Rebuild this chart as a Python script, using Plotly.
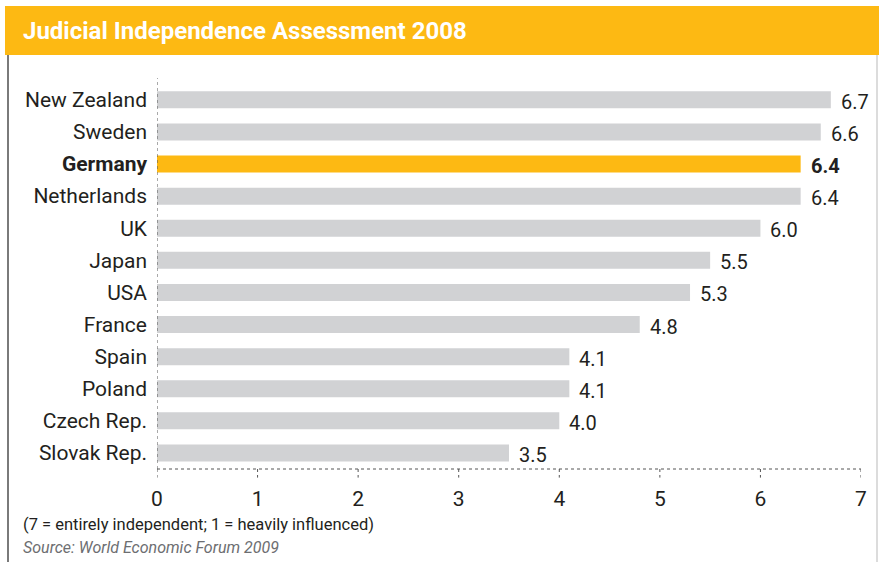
import plotly.graph_objects as go

countries = ["New Zealand", "Sweden", "Germany", "Netherlands", "UK", "Japan",
             "USA", "France", "Spain", "Poland", "Czech Rep.", "Slovak Rep."]
scores = [6.7, 6.6, 6.4, 6.4, 6.0, 5.5, 5.3, 4.8, 4.1, 4.1, 4.0, 3.5]
highlight = "Germany"
x_ticks = [0, 1, 2, 3, 4, 5, 6, 7]

W, H = 879, 562
ML, MR, MT, MB = 157, 18, 78, 93
ORANGE = "#FDB913"
GREY_BAR = "#D1D2D4"
TEXT = "#231F20"
FONT = "Roboto"

# bottom-to-top order for the category axis
cats = countries[::-1]
vals = scores[::-1]
colors = [ORANGE if c == highlight else GREY_BAR for c in cats]
ticktext = [f"<b>{c}</b>" if c == highlight else c for c in cats]

fig = go.Figure(go.Bar(
    x=vals, y=cats, orientation="h",
    marker=dict(color=colors, line=dict(width=0)),
    hoverinfo="skip",
))

# value labels to the right of each bar
for c, v in zip(cats, vals):
    txt = f"<b>{v:.1f}</b>" if c == highlight else f"{v:.1f}"
    fig.add_annotation(x=v, y=c, xref="x", yref="y", text=txt, showarrow=False,
                       xanchor="left", xshift=8, yshift=-2,
                       font=dict(family=FONT, size=20, color=TEXT))

shapes = []
# dotted baseline and left axis
shapes.append(dict(type="line", xref="x", yref="paper", x0=0, x1=7, y0=0, y1=0,
                   line=dict(color="#555555", width=1, dash="dot")))
shapes.append(dict(type="line", xref="x", yref="paper", x0=0, x1=0, y0=0, y1=1,
                   line=dict(color="#555555", width=1, dash="dot")))
# dotted tick marks below the baseline
for t in x_ticks:
    shapes.append(dict(type="line", xref="x", yref="paper", x0=t, x1=t,
                       y0=0, y1=-0.022,
                       line=dict(color="#555555", width=1, dash="dot")))
# header band
shapes.append(dict(type="rect", xref="paper", yref="paper", layer="below",
                   x0=(5 - ML) / (W - ML - MR), x1=(W - ML) / (W - ML - MR),
                   y0=(H - MB - 55) / (H - MT - MB), y1=(H - MB - 6) / (H - MT - MB),
                   fillcolor=ORANGE, line=dict(width=0)))
# frame lines
shapes.append(dict(type="line", xref="paper", yref="paper",
                   x0=(8 - ML) / (W - ML - MR), x1=(8 - ML) / (W - ML - MR),
                   y0=(H - MB - H) / (H - MT - MB), y1=(H - MB - 55) / (H - MT - MB),
                   line=dict(color="#7a7a7a", width=2)))
shapes.append(dict(type="line", xref="paper", yref="paper",
                   x0=(877 - ML) / (W - ML - MR), x1=(877 - ML) / (W - ML - MR),
                   y0=(H - MB - H) / (H - MT - MB), y1=(H - MB - 55) / (H - MT - MB),
                   line=dict(color="#d0d0d0", width=1.5)))

fig.add_annotation(xref="paper", yref="paper",
                   x=(21 - ML) / (W - ML - MR), y=(H - MB - 31) / (H - MT - MB),
                   xanchor="left", yanchor="middle", showarrow=False,
                   text="<b>Judicial Independence Assessment 2008</b>",
                   font=dict(family=FONT, size=24, color="white"))
fig.add_annotation(xref="paper", yref="paper",
                   x=(21 - ML) / (W - ML - MR), y=(H - MB - 524) / (H - MT - MB),
                   xanchor="left", yanchor="middle", showarrow=False,
                   text="(7 = entirely independent; 1 = heavily influenced)",
                   font=dict(family=FONT, size=16.5, color=TEXT))
fig.add_annotation(xref="paper", yref="paper",
                   x=(21 - ML) / (W - ML - MR), y=(H - MB - 547) / (H - MT - MB),
                   xanchor="left", yanchor="middle", showarrow=False,
                   text="<i>Source: World Economic Forum 2009</i>",
                   font=dict(family=FONT, size=16, color="#6d6e71"))

fig.update_layout(
    width=W, height=H,
    margin=dict(l=ML, r=MR, t=MT, b=MB, pad=0),
    paper_bgcolor="white", plot_bgcolor="white",
    bargap=0.47, showlegend=False,
    shapes=shapes,
    xaxis=dict(range=[0, 7], tickvals=x_ticks, showgrid=False, zeroline=False,
               showline=False, ticks="", ticklabelstandoff=15,
               tickfont=dict(family=FONT, size=21, color=TEXT), fixedrange=True),
    yaxis=dict(range=[-0.5, 11.68], tickvals=cats, ticktext=ticktext,
               showgrid=False, zeroline=False, showline=False, ticks="",
               ticklabelstandoff=9,
               tickfont=dict(family=FONT, size=21, color=TEXT), fixedrange=True),
)

fig.write_html("out.html")
